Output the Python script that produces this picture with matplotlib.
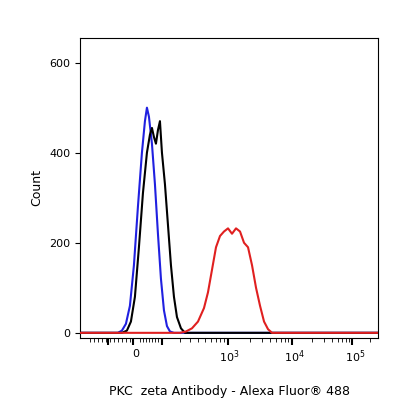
import matplotlib
matplotlib.use("Agg")
import matplotlib.pyplot as plt
import numpy as np

# x in display channel units
blue_x = [80,118,122,126,130,134,138,142,145,147,149,152,155,158,161,164,167,170,174,380]
blue_y = [0,0,5,20,60,150,280,400,470,500,480,420,330,220,120,50,15,3,0,0]
black_x = [80,122,127,131,135,139,143,147,150,152,154,156,158,160,162,165,168,171,174,177,181,185,380]
black_y = [0,0,5,25,80,190,310,400,440,455,435,420,450,470,400,330,240,150,80,35,10,0,0]
red_x = [80,180,186,192,198,204,208,212,216,220,224,228,232,236,240,244,248,252,256,260,264,268,272,380]
red_y = [0,0,3,10,25,55,90,140,190,215,225,232,220,232,225,200,190,150,100,60,25,8,0,0]
xticks_major = [108,133,162,228,292,352]
xtick_labels = [(136,'0'),(229,'$10^3$'),(294,'$10^4$'),(355,'$10^5$')]
yticks = [0,200,400,600]

fig = plt.figure(figsize=(4.16,4.16), dpi=100)
ax = fig.add_axes([0.192,0.188,0.717,0.721])
ax.plot(blue_x, blue_y, color='#2020e0', lw=1.5, zorder=2)
ax.plot(black_x, black_y, color='black', lw=1.5, zorder=3)
ax.plot(red_x, red_y, color='#e02020', lw=1.5, zorder=4)
ax.set_xlim(80,378); ax.set_ylim(-11,655)
ax.set_yticks(yticks); ax.set_yticklabels([str(v) for v in yticks], fontsize=8)
ax.set_xticks(xticks_major); ax.set_xticklabels(['']*len(xticks_major))
minor = list(np.arange(90,133,4))+list(np.arange(140,162,3))+[180,190,198,205,211,216,220,224]+[250,262,270,276,281,285,288]+[312,324,332,338,342,346,349]+[370]
ax.set_xticks(minor, minor=True)
ax.tick_params(axis='x', which='major', length=5, width=1.5)
ax.tick_params(axis='x', which='minor', length=3)
for xp, t in xtick_labels:
    ax.text(xp, -35, t, ha='center', va='top', fontsize=8)
ax.set_ylabel('Count', fontsize=9)
ax.text(229, -115, 'PKC  zeta Antibody - Alexa Fluor® 488', ha='center', va='top', fontsize=9)
fig.savefig('out.png', dpi=100)
